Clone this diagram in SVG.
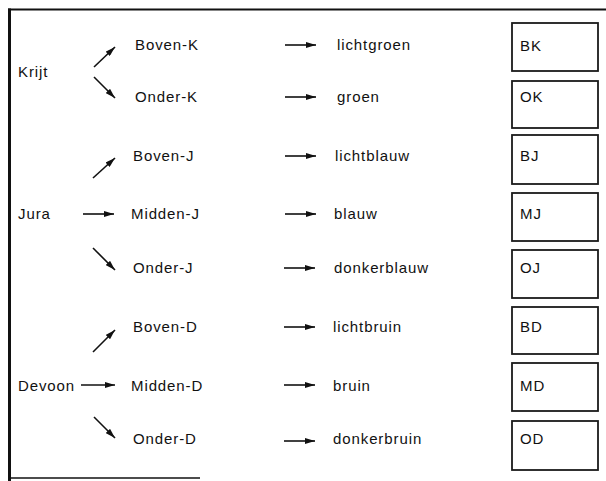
<svg xmlns="http://www.w3.org/2000/svg" width="606" height="481" viewBox="0 0 606 481">
<style>
text{font-family:"Liberation Sans",Arial,Helvetica,sans-serif;font-size:15px;letter-spacing:0.9px;fill:#111}
.box{fill:#fff;stroke:#1a1a1a;stroke-width:1.8}
.arr{stroke:#111;stroke-width:1.6;fill:none;marker-end:url(#ah)}
.frame{stroke:#111;fill:none}
</style>
<defs>
<marker id="ah" markerUnits="userSpaceOnUse" markerWidth="10" markerHeight="6" refX="10" refY="3" orient="auto">
<path d="M0,0 L10,3 L0,6 z" fill="#111"/>
</marker>
</defs>
<rect width="606" height="481" fill="#fff"/>
<g id="frame">
<line class="frame" x1="8" y1="9.5" x2="606" y2="9.5" stroke-width="2"/>
<line class="frame" x1="9.5" y1="8.5" x2="9.5" y2="481" stroke-width="3"/>
<line class="frame" x1="9" y1="478" x2="200" y2="478" stroke-width="1.5"/>
</g>
<g id="connectors">
<line class="arr" x1="94" y1="67" x2="115" y2="47"/>
<line class="arr" x1="94" y1="77" x2="115" y2="98"/>
<line class="arr" x1="93" y1="178" x2="115" y2="158"/>
<line class="arr" x1="83" y1="214" x2="114" y2="214"/>
<line class="arr" x1="93" y1="248" x2="115" y2="270"/>
<line class="arr" x1="93" y1="352" x2="115" y2="330"/>
<line class="arr" x1="81" y1="385" x2="115" y2="385"/>
<line class="arr" x1="94" y1="417" x2="115" y2="438"/>
<line class="arr" x1="285" y1="45" x2="316" y2="45"/>
<line class="arr" x1="285" y1="97" x2="316" y2="97"/>
<line class="arr" x1="285" y1="156" x2="316" y2="156"/>
<line class="arr" x1="285" y1="214" x2="316" y2="214"/>
<line class="arr" x1="284" y1="268" x2="315" y2="268"/>
<line class="arr" x1="284" y1="327" x2="315" y2="327"/>
<line class="arr" x1="284" y1="385" x2="315" y2="385"/>
<line class="arr" x1="284" y1="441" x2="315" y2="441"/>
</g>
<g id="krijt"><text x="18" y="77">Krijt</text></g>
<g id="jura"><text x="18" y="219">Jura</text></g>
<g id="devoon"><text x="18" y="391">Devoon</text></g>
<g id="boven-k"><text x="135" y="50">Boven-K</text></g>
<g id="onder-k"><text x="135" y="102">Onder-K</text></g>
<g id="boven-j"><text x="133" y="161">Boven-J</text></g>
<g id="midden-j"><text x="131" y="219">Midden-J</text></g>
<g id="onder-j"><text x="133" y="273">Onder-J</text></g>
<g id="boven-d"><text x="133" y="332">Boven-D</text></g>
<g id="midden-d"><text x="131" y="391">Midden-D</text></g>
<g id="onder-d"><text x="133" y="444">Onder-D</text></g>
<g id="lichtgroen"><text x="337" y="50">lichtgroen</text></g>
<g id="groen"><text x="337" y="102">groen</text></g>
<g id="lichtblauw"><text x="335" y="161">lichtblauw</text></g>
<g id="blauw"><text x="334" y="219">blauw</text></g>
<g id="donkerblauw"><text x="334" y="273">donkerblauw</text></g>
<g id="lichtbruin"><text x="333" y="332">lichtbruin</text></g>
<g id="bruin"><text x="333" y="391">bruin</text></g>
<g id="donkerbruin"><text x="333" y="444">donkerbruin</text></g>
<g id="bk"><rect class="box" x="512" y="23" width="86" height="48"/><text x="520" y="51">BK</text></g>
<g id="ok"><rect class="box" x="512" y="81" width="86" height="47"/><text x="520" y="102">OK</text></g>
<g id="bj"><rect class="box" x="512" y="135" width="86" height="49"/><text x="520" y="161">BJ</text></g>
<g id="mj"><rect class="box" x="512" y="193" width="86" height="48"/><text x="520" y="219">MJ</text></g>
<g id="oj"><rect class="box" x="512" y="250" width="86" height="48"/><text x="520" y="273">OJ</text></g>
<g id="bd"><rect class="box" x="512" y="307" width="86" height="47"/><text x="520" y="332">BD</text></g>
<g id="md"><rect class="box" x="512" y="363" width="86" height="48"/><text x="520" y="391">MD</text></g>
<g id="od"><rect class="box" x="512" y="421" width="86" height="49"/><text x="520" y="444">OD</text></g>
</svg>
